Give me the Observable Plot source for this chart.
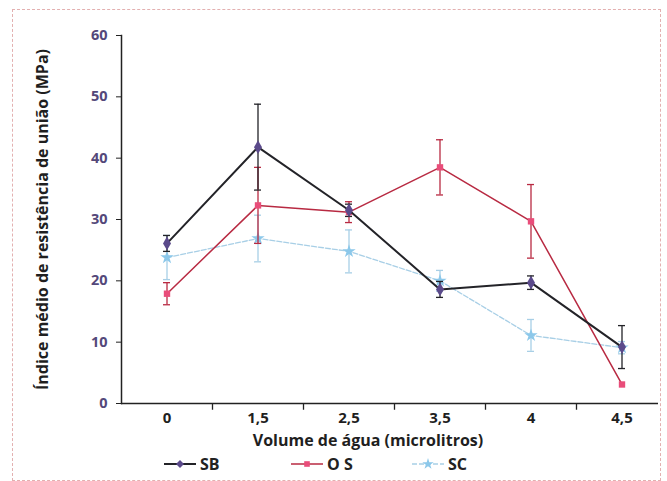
<!DOCTYPE html>
<html><head><meta charset="utf-8">
<script src="https://cdn.jsdelivr.net/npm/d3@7"></script>
<script src="https://cdn.jsdelivr.net/npm/@observablehq/plot@0.6"></script>
<style>
body{margin:0;background:#fff;font-family:"Open Sans",sans-serif;}
#wrap{position:relative;width:667px;height:481px;overflow:hidden;background:#fff}
#frame{position:absolute;left:12px;top:9px;width:647px;height:470px;border:1px dashed #e3b0b0;pointer-events:none}
#legend{position:absolute;left:0;top:452px;width:667px;height:29px}
.item{position:absolute;top:2px;display:flex;align-items:center;font-weight:700;font-size:16px;color:#222;line-height:20px}
.item svg{margin-right:3px}
[aria-label="y-axis tick label"] text{fill:#54487a}
</style></head><body>
<div id="wrap"><div id="chart"></div><div id="legend"></div><div id="frame"></div></div>
<script>
const categories = ["0", "1,5", "2,5", "3,5", "4", "4,5"];
const sbValues = [26.1, 41.8, 31.5, 18.6, 19.7, 9.2];
const sbErrors = [1.3, 7.0, 1.0, 1.3, 1.1, 3.5];
const osValues = [17.9, 32.3, 31.2, 38.5, 29.7, 3.1];
const osErrors = [1.8, 6.2, 1.7, 4.5, 6.0, 0];
const scValues = [23.8, 26.9, 24.8, 20.0, 11.1, 9.1];
const scErrors = [3.6, 3.8, 3.5, 1.7, 2.6, 1.0];
const yTicks = [0, 10, 20, 30, 40, 50, 60];
const seriesNames = ["SB", "OS", "SC"];

const styles = {
  SB: {line: "#232328", marker: "#5b4a8b", symbol: "diamond", width: 2, dash: null, r: 4.2},
  OS: {line: "#b82a42", marker: "#e94d7a", symbol: "square", width: 1.5, dash: null, r: 3.6},
  SC: {line: "#a8cfe6", marker: "#8cc8ea", symbol: "star", width: 1.3, dash: "5,2", r: 4.2}
};
const seriesData = {
  SB: categories.map((c, i) => ({x: c, y: sbValues[i], e: sbErrors[i]})),
  OS: categories.map((c, i) => ({x: c, y: osValues[i], e: osErrors[i]})),
  SC: categories.map((c, i) => ({x: c, y: scValues[i], e: scErrors[i]}))
};

const W = 667, H = 452, ML = 121, MR = 9, MT = 35, MB = 49;
const xRange = [ML, W];
const step = (xRange[1] - xRange[0]) / categories.length;
const capInset = step / 2 - 3.5;

const marks = [];
for (const name of ["SC", "OS", "SB"]) {
  const s = styles[name], d = seriesData[name];
  const eb = d.filter(p => p.e > 0);
  marks.push(Plot.ruleX(eb, {x: "x", y1: p => p.y - p.e, y2: p => p.y + p.e, stroke: s.line, strokeWidth: 1.3}));
  marks.push(Plot.tickY(eb, {x: "x", y: p => p.y + p.e, stroke: s.line, strokeWidth: 1.3, insetLeft: capInset, insetRight: capInset}));
  marks.push(Plot.tickY(eb, {x: "x", y: p => p.y - p.e, stroke: s.line, strokeWidth: 1.3, insetLeft: capInset, insetRight: capInset}));
  marks.push(Plot.line(d, {x: "x", y: "y", stroke: s.line, strokeWidth: s.width, strokeDasharray: s.dash}));
  marks.push(Plot.dot(d, {x: "x", y: "y", symbol: () => s.symbol, fill: s.marker, r: s.r, stroke: "none"}));
}

const chart = Plot.plot({
  width: W, height: H,
  marginLeft: ML, marginRight: MR, marginTop: MT, marginBottom: MB,
  style: {fontFamily: "'Open Sans', sans-serif", background: "transparent", overflow: "visible"},
  x: {domain: categories, range: xRange, padding: 0, type: "band"},
  y: {domain: [0, 60]},
  marks: [
    Plot.frame({anchor: "left", stroke: "#222", strokeWidth: 1.5}),
    Plot.ruleY([0], {stroke: "#222", strokeWidth: 1.5}),
    Plot.ruleX(categories.slice(1), {x: d => d, dx: -step / 2, y1: 0, y2: -1.1, stroke: "#222", strokeWidth: 1.3}),
    Plot.axisY({ticks: yTicks, tickSize: 5, tickPadding: 9, stroke: "#222", fontSize: 14.5, fontWeight: 700,
      label: "Índice médio de resistência de união (MPa)", labelAnchor: "center", labelArrow: "none", labelOffset: 85}),
    Plot.axisX({tickSize: 0, tickPadding: 9, fontSize: 15, fontWeight: 700,
      label: "Volume de água (microlitros)", labelAnchor: "center", labelArrow: "none", labelOffset: 42}),
    ...marks
  ]
});
d3.select(chart).selectAll('[aria-label="y-axis label"], [aria-label="x-axis label"]')
  .attr("font-size", 16).attr("font-weight", 700).attr("fill", "#1f1f1f");
const xl = d3.select(chart).select('[aria-label="x-axis label"]');
xl.attr("transform", (xl.attr("transform") || "") + " translate(-22,0)");
d3.select(chart).selectAll('[aria-label="x-axis tick label"]').attr("fill", "#1f1f1f");
document.getElementById("chart").appendChild(chart);

// legend
const legendPos = {SB: 163, OS: 290, SC: 411};
const legend = document.getElementById("legend");
for (const name of seriesNames) {
  const s = styles[name];
  const item = document.createElement("div");
  item.className = "item";
  item.style.left = legendPos[name] + "px";
  const svg = d3.create("svg").attr("width", 34).attr("height", 14);
  svg.append("line").attr("x1", 1).attr("x2", 33).attr("y1", 7).attr("y2", 7)
    .attr("stroke", s.line).attr("stroke-width", s.width).attr("stroke-dasharray", s.dash);
  const sym = {diamond: d3.symbolDiamond2, square: d3.symbolSquare2, star: d3.symbolStar}[s.symbol];
  svg.append("path").attr("d", d3.symbol(sym, 40)).attr("transform", "translate(17,7)").attr("fill", s.marker);
  item.appendChild(svg.node());
  const t = document.createElement("span");
  t.textContent = name === "OS" ? "O S" : name;
  item.appendChild(t);
  legend.appendChild(item);
}
</script>
</body></html>
